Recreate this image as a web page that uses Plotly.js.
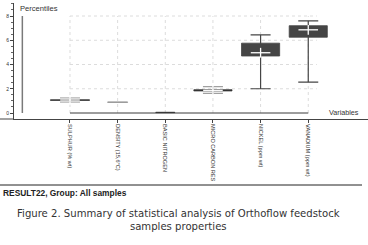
<!DOCTYPE html>
<html><head><meta charset="utf-8">
<script src="https://cdn.plot.ly/plotly-3.0.1.min.js"></script>
<style>html,body{margin:0;padding:0;background:#fff;} #chart{width:368px;height:245px;}</style>
</head><body><div id="chart"></div>
<script>
// ---- data ----
const categories = ["SULPHUR (% wt)", "DENSITY (15,6°C)", "BASIC NITROGEN", "MICRO CARBON RES", "NICKEL (ppm wt)", "VANADIUM (ppm wt)"];
const q1 = [1.04, 0.88, 0.03, 1.82, 4.70, 6.25];
const q3 = [1.09, 0.91, 0.06, 1.92, 5.76, 7.20];
const medians = [1.07, 0.90, 0.05, 1.87, 4.97, 6.86];
const whiskerLow = [0.90, null, null, 1.62, 2.00, 2.55];
const whiskerHigh = [1.24, null, null, 2.17, 6.45, 7.60];
const yTickVals = [0, 2, 4, 6, 8];
const yTickText = ["0", "2", "4", "6", "8"];

// ---- styles ----
const boxColors = ['#353535', '#8c8c8c', '#2a2a2a', '#353535', '#454545', '#454545'];
const boxWidths = [0.82, 0.42, 0.40, 0.80, 0.80, 0.80];
const whiskerColors = ['#b4b4b4', null, null, '#a0a0a0', '#454545', '#454545'];

const W = 368, H = 245, L = 14, R = 0, T = 3, B = 126;
const pw = W - L - R, ph = H - T - B;
const px = x => (x - L) / pw;
const py = y => (H - B - y) / ph;

const idx = categories.map((c, i) => i);
const traces = [];

traces.push({
  type: 'bar', x: idx, base: q1, y: q3.map((v, i) => v - q1[i]),
  width: boxWidths,
  marker: {color: boxColors, line: {color: boxColors, width: 0.8}},
  hoverinfo: 'skip', showlegend: false
});

idx.forEach(i => {
  if (whiskerLow[i] === null) return;
  traces.push({
    type: 'scatter', mode: 'markers', x: [i], y: [medians[i]],
    marker: {size: 1, opacity: 0},
    error_y: {type: 'data', symmetric: false,
      array: [whiskerHigh[i] - medians[i]], arrayminus: [medians[i] - whiskerLow[i]],
      color: whiskerColors[i], thickness: 1.2, width: 10},
    hoverinfo: 'skip', showlegend: false
  });
});

const wi = idx.filter(i => whiskerLow[i] !== null);
traces.push({
  type: 'scatter', mode: 'markers', x: wi, y: wi.map(i => medians[i]),
  marker: {symbol: 'line-ew', size: 14, line: {color: '#ffffff', width: 1.3}},
  hoverinfo: 'skip', showlegend: false
});
traces.push({
  type: 'scatter', mode: 'markers', x: wi, y: wi.map(i => medians[i]),
  marker: {symbol: 'line-ns', size: 7, line: {color: '#ffffff', width: 1.3}},
  hoverinfo: 'skip', showlegend: false
});

const shapes = [];
idx.forEach(i => shapes.push({type: 'line', xref: 'x', yref: 'y', x0: i, x1: i, y0: 0, y1: 8,
  line: {color: '#dcdcdc', width: 1, dash: 'dot'}, layer: 'below'}));
yTickVals.filter(v => v > 0).forEach(v => shapes.push({type: 'line', xref: 'x', yref: 'y',
  x0: 0, x1: idx.length - 1 + 0.18, y0: v, y1: v, line: {color: '#dcdcdc', width: 1, dash: 'dot'}, layer: 'below'}));
shapes.push({type: 'line', xref: 'x', yref: 'y', x0: 0, x1: idx.length - 1, y0: 0, y1: 0,
  line: {color: '#3a3a3a', width: 1}});
shapes.push({type: 'line', xref: 'x', yref: 'y', x0: -1, x1: -1, y0: 0, y1: 8,
  line: {color: '#7a7a7a', width: 1.5}});
shapes.push({type: 'line', xref: 'paper', yref: 'paper', x0: px(0), x1: 0, y0: 0, y1: 0,
  line: {color: '#444', width: 1}});
shapes.push({type: 'line', xref: 'paper', yref: 'paper', x0: px(0), x1: px(362), y0: py(185), y1: py(185),
  line: {color: '#222', width: 1}});

const font = 'Liberation Sans, Arial, sans-serif';
const capFont = 'DejaVu Sans, sans-serif';
const annotations = [
  {xref: 'paper', yref: 'paper', x: px(18), y: py(8), xanchor: 'left', yanchor: 'middle', showarrow: false,
    text: 'Percentiles', font: {size: 7.6, color: '#333', family: font}},
  {xref: 'paper', yref: 'paper', x: px(361), y: py(112), xanchor: 'right', yanchor: 'middle', showarrow: false,
    text: 'Variables', font: {size: 7.2, color: '#333', family: font}},
  {xref: 'paper', yref: 'paper', x: px(1), y: py(193), xanchor: 'left', yanchor: 'middle', showarrow: false,
    text: '<b>RESULT22, Group: All samples</b>', font: {size: 8.4, color: '#222', family: font}},
  {xref: 'paper', yref: 'paper', x: px(178.5), y: py(219.5), xanchor: 'center', yanchor: 'middle', showarrow: false,
    align: 'center', text: 'Figure 2. Summary of statistical analysis of Orthoflow feedstock<br>samples properties',
    font: {size: 10.1, color: '#333', family: capFont}}
];

const layout = {
  width: W, height: H, margin: {l: L, r: R, t: T, b: B, pad: 0},
  paper_bgcolor: '#fff', plot_bgcolor: '#fff', showlegend: false, bargap: 0,
  xaxis: {range: [-1.175, 6.254], showgrid: false, zeroline: false, showline: true, linecolor: '#444', linewidth: 1,
    tickmode: 'array', tickvals: idx, ticktext: categories, tickangle: 90, ticks: 'outside', ticklen: 3,
    tickcolor: '#444', tickfont: {size: 5.6, color: '#333', family: font}, fixedrange: true},
  yaxis: {range: [-0.495, 9.072], showgrid: false, zeroline: false, showline: true, linecolor: '#444', linewidth: 1,
    tickmode: 'array', tickvals: yTickVals, ticktext: yTickText, ticks: 'outside', ticklen: 3, tickcolor: '#444',
    tickfont: {size: 5, color: '#333', family: font},
    minor: {dtick: 0.5, ticks: 'outside', ticklen: 2, tickcolor: '#666'}, fixedrange: true},
  shapes: shapes, annotations: annotations
};

Plotly.newPlot('chart', traces, layout, {staticPlot: true, displayModeBar: false});
</script>
</body></html>
